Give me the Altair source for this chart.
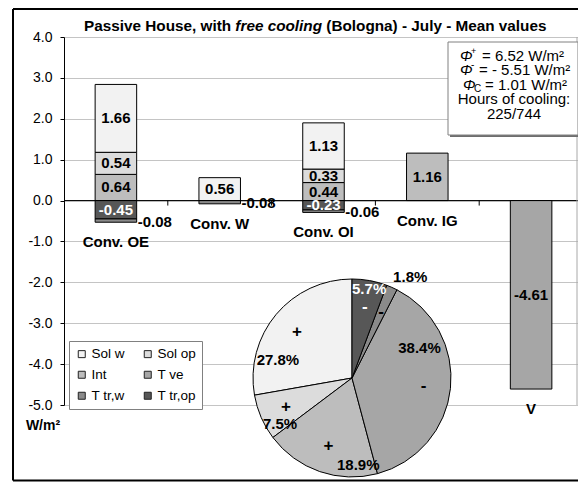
import altair as alt
import pandas as pd

# ---------------- data ----------------
categories = ["Conv. OE", "Conv. W", "Conv. OI", "Conv. IG", "V"]
series_names = ["Sol w", "Sol op", "Int", "T ve", "T tr,w", "T tr,op"]
sol_w = [1.66, 0.56, 1.13, 0.00, 0.00]
sol_op = [0.54, 0.00, 0.33, 0.00, 0.00]
int_g = [0.64, 0.00, 0.44, 1.16, 0.00]
t_ve = [0.00, 0.00, 0.00, 0.00, -4.61]
t_tr_w = [-0.08, -0.08, -0.06, 0.00, 0.00]
t_tr_op = [-0.45, 0.00, -0.23, 0.00, 0.00]
pie_share = [27.8, 7.5, 18.9, 38.4, 1.8, 5.7]  # same order as series_names
y_ticks = [-5, -4, -3, -2, -1, 0, 1, 2, 3, 4]
phi_plus = "= 6.52 W/m²"
phi_minus = "= - 5.51 W/m²"
phi_c = "= 1.01 W/m²"
hours_lines = ["Hours of cooling:", "225/744"]
title_parts = ["Passive House, with", "free cooling", "(Bologna) - July - Mean values"]

# ---------------- styling ----------------
colors = ["#f2f2f2", "#dcdcdc", "#bdbdbd", "#a6a6a6", "#8a8a8a", "#575757"]
FONT = "Liberation Sans"
W, H = 514, 368
STEP = 103.8                      # pixels per category
XMAX = W / STEP
Y0PX = H * 4 / 9                  # pixel position of value 0
PIE_X, PIE_Y, PIE_R = 288, 341, 99

values = dict(zip(series_names, [sol_w, sol_op, int_g, t_ve, t_tr_w, t_tr_op]))
pos_order = ["Int", "Sol op", "Sol w"]
neg_order = ["T tr,op", "T tr,w", "T ve"]

seg_rows, cat_rows = [], []
for i, c in enumerate(categories):
    top, bot = 0.0, 0.0
    for s in pos_order:
        v = values[s][i]
        if v > 0:
            seg_rows.append(dict(cat=c, series=s, value=v, x0=i + 0.3, x1=i + 0.7, xc=i + 0.5,
                                 y0=top, y1=top + v, mid=top + v / 2))
            top += v
    for s in neg_order:
        v = values[s][i]
        if v < 0:
            seg_rows.append(dict(cat=c, series=s, value=v, x0=i + 0.3, x1=i + 0.7, xc=i + 0.5,
                                 y0=bot, y1=bot + v, mid=bot + v / 2))
            bot += v
    cat_rows.append(dict(cat=c, xc=i + 0.5, bottom=bot))

seg = pd.DataFrame(seg_rows)
seg["label"] = seg["value"].map(lambda v: f"{v:.2f}")
seg["lcol"] = seg["series"].map(lambda s: "white" if s == "T tr,op" else "black")
seg["outside"] = seg["series"] == "T tr,w"
cats = pd.DataFrame(cat_rows)

pie_order = ["T tr,op", "T tr,w", "T ve", "Int", "Sol op", "Sol w"]
pie = pd.DataFrame({"series": series_names, "pct": pie_share})
pie["ord"] = pie["series"].map(pie_order.index)
pie["sign"] = pie["series"].map(lambda s: "+" if sum(values[s]) > 0 else "-")
pie["plabel"] = pie["pct"].map(lambda p: f"{p:.1f}%")
pie["tcol"] = pie["series"].map(lambda s: "white" if s == "T tr,op" else "black")

bounds = pd.DataFrame({"b": list(range(1, len(categories)))})
one = pd.DataFrame({"a": [0]})

xscale = alt.Scale(domain=[0, XMAX], nice=False)
yscale = alt.Scale(domain=[min(y_ticks), max(y_ticks)], nice=False)
cscale = alt.Scale(domain=series_names, range=colors)

bars = alt.Chart(seg).mark_bar(stroke="black", strokeWidth=1).encode(
    x=alt.X("x0:Q", scale=xscale, axis=None),
    x2="x1:Q",
    y=alt.Y("y0:Q", scale=yscale, axis=alt.Axis(
        values=y_ticks, title=None,
        labelExpr="(datum.value < 0 ? '-' : '') + format(abs(datum.value), '.1f')",
        labelFont=FONT, labelFontSize=14, labelColor="black", labelPadding=8,
        tickColor="black", tickSize=4, domainColor="black",
        gridColor="#c4c4c4", gridWidth=1)),
    y2="y1:Q",
    color=alt.Color("series:N", scale=cscale, legend=alt.Legend(
        title=None, orient="none", legendX=5, legendY=304, columns=2,
        direction="horizontal",
        symbolType="square", symbolSize=49, symbolStrokeColor="#222",
        symbolStrokeWidth=1, labelFont=FONT, labelFontSize=13.5,
        labelColor="black", labelOffset=3, fillColor="white",
        strokeColor="#808080", padding=6, columnPadding=16, rowPadding=6)),
)

zero_rule = alt.Chart(one).mark_rule(color="black", strokeWidth=1).encode(
    y=alt.datum(0, scale=yscale))
ticks = alt.Chart(bounds).mark_rule(color="black", strokeWidth=1).encode(
    x=alt.X("b:Q", scale=xscale), y=alt.datum(0, scale=yscale), y2=alt.value(Y0PX + 5))
right_edge = alt.Chart(one).mark_rule(color="#a8a8a8", strokeWidth=1).encode(
    x=alt.value(W - 1), y=alt.value(0), y2=alt.value(H))

txt = dict(font=FONT, fontSize=15, fontWeight="bold")
in_labels = alt.Chart(seg[~seg["outside"]]).mark_text(baseline="middle", **txt).encode(
    x=alt.X("xc:Q", scale=xscale), y=alt.Y("mid:Q", scale=yscale),
    text="label:N", color=alt.Color("lcol:N", scale=None))
out_labels = alt.Chart(seg[seg["outside"]]).mark_text(
    baseline="middle", align="left", dx=1, dy=1, **txt).encode(
    x=alt.X("x1:Q", scale=xscale), y=alt.Y("mid:Q", scale=yscale),
    text="label:N", color=alt.value("black"))
cat_labels = alt.Chart(cats).mark_text(baseline="middle", dy=20, **txt).encode(
    x=alt.X("xc:Q", scale=xscale), y=alt.Y("bottom:Q", scale=yscale), text="cat:N")

pie_arc = alt.Chart(pie).mark_arc(radius=PIE_R, stroke="black", strokeWidth=1).encode(
    theta=alt.Theta("pct:Q", stack=True), order=alt.Order("ord:Q"),
    color=alt.Color("series:N", scale=cscale, legend=None),
    x=alt.value(PIE_X), y=alt.value(PIE_Y))
pie_signs = alt.Chart(pie).mark_text(radius=72, baseline="middle", font=FONT,
                                     fontSize=17, fontWeight="bold").encode(
    theta=alt.Theta("pct:Q", stack=True), order=alt.Order("ord:Q"),
    text="sign:N", color=alt.Color("tcol:N", scale=None),
    x=alt.value(PIE_X), y=alt.value(PIE_Y))

pct_offsets = {"T tr,op": (2, -5), "T tr,w": (24, -23), "T ve": (-17, -39),
               "Int": (34, 7), "Sol op": (6, 12), "Sol w": (-9, 37)}
pct_layers = []
for s, (dx, dy) in pct_offsets.items():
    pct_layers.append(
        alt.Chart(pie).mark_text(radius=85, baseline="middle", dx=dx, dy=dy, **txt).encode(
            theta=alt.Theta("pct:Q", stack=True), order=alt.Order("ord:Q"),
            text=alt.condition(alt.datum.series == s, "plabel:N", alt.value("")),
            color=alt.Color("tcol:N", scale=None),
            x=alt.value(PIE_X), y=alt.value(PIE_Y)))

# annotation box (plot-pixel coordinates)
shadow = alt.Chart(one).mark_rect(fill="#6e6e6e").encode(
    x=alt.value(386), x2=alt.value(516), y=alt.value(7), y2=alt.value(100))
box = alt.Chart(one).mark_rect(fill="white", stroke="#808080", strokeWidth=1).encode(
    x=alt.value(384), x2=alt.value(514), y=alt.value(5), y2=alt.value(98))
afs = 15
ann = []
line_y = [18.5, 33, 47.5]
phi_x = [396, 396, 399]
rest_x = [418, 415, 421]
rests = [phi_plus, phi_minus, phi_c]
marks = [("+", -5, 9), ("-", -5, 10), ("C", 4, 10)]
for ly, px, rx, rest, (m, mdy, mfs) in zip(line_y, phi_x, rest_x, rests, marks):
    ann.append(alt.Chart(one).mark_text(text="Φ", font=FONT, fontSize=afs, fontStyle="italic",
                                        align="left", baseline="middle").encode(
        x=alt.value(px), y=alt.value(ly)))
    ann.append(alt.Chart(one).mark_text(text=m, font=FONT, fontSize=mfs, align="left",
                                        baseline="middle", dy=mdy).encode(
        x=alt.value(px + 11), y=alt.value(ly)))
    ann.append(alt.Chart(one).mark_text(text=rest, font=FONT, fontSize=afs, align="left",
                                        baseline="middle").encode(
        x=alt.value(rx), y=alt.value(ly)))
for ly, t in zip([62, 76.5], hours_lines):
    ann.append(alt.Chart(one).mark_text(text=t, font=FONT, fontSize=afs, align="center",
                                        baseline="middle").encode(
        x=alt.value(450), y=alt.value(ly)))

# title (three runs: bold, bold italic, bold)
tfs = 15.3
sp = 0.278 * tfs
title_x = [20, 20 + 9.615 * tfs + sp, 20 + (9.615 + 5.668) * tfs + 2 * sp]
title_layers = []
for t, tx, st in zip(title_parts, title_x, ["normal", "italic", "normal"]):
    title_layers.append(alt.Chart(one).mark_text(
        text=t, font=FONT, fontSize=tfs, fontWeight="bold", fontStyle=st,
        align="left", baseline="middle").encode(x=alt.value(tx), y=alt.value(-11.5)))

unit = alt.Chart(one).mark_text(text="W/m²", font=FONT, fontSize=14, fontWeight="bold",
                                align="center", baseline="middle").encode(
    x=alt.value(-21), y=alt.value(389))

# outer frame: top, left, bottom edges (right edge lies outside the picture)
FL, FT, FB, FR = -51, -28, 443.5, 560
frame_top = alt.Chart(one).mark_rule(color="black", strokeWidth=2).encode(
    x=alt.value(FL), x2=alt.value(FR), y=alt.value(FT))
frame_bot = alt.Chart(one).mark_rule(color="black", strokeWidth=2).encode(
    x=alt.value(FL), x2=alt.value(FR), y=alt.value(FB))
frame_left = alt.Chart(one).mark_rule(color="black", strokeWidth=2).encode(
    x=alt.value(FL), y=alt.value(FT), y2=alt.value(FB))

chart = alt.layer(
    bars, zero_rule, ticks, right_edge, in_labels, out_labels, cat_labels,
    pie_arc, pie_signs, *pct_layers,
    shadow, box, *ann, *title_layers, unit, frame_top, frame_bot, frame_left,
).properties(
    width=W, height=H,
    padding={"left": 56, "top": 29, "right": 0, "bottom": 77},
    autosize=alt.AutoSizeParams(type="none"),
    background="white",
).configure_view(stroke=None)

chart.save("out.html", embed_options={"renderer": "svg", "actions": False})
